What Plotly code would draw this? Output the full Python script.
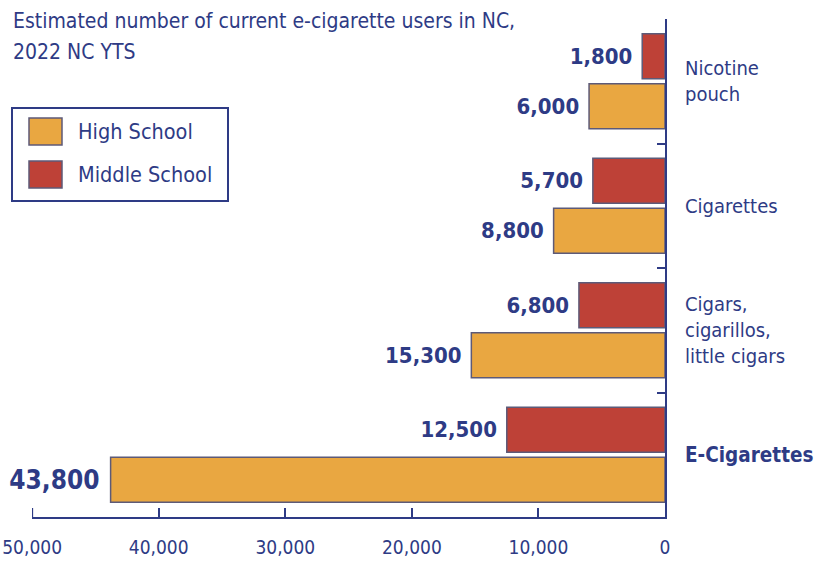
import plotly.graph_objects as go

categories = ["Nicotine<br>pouch", "Cigarettes", "Cigars,<br>cigarillos,<br>little cigars", "E-Cigarettes"]
cat_keys = ["Nicotine pouch", "Cigarettes", "Cigars, cigarillos, little cigars", "E-Cigarettes"]
high_school = [6000, 8800, 15300, 43800]
middle_school = [1800, 5700, 6800, 12500]
series_names = ["High School", "Middle School"]
x_ticks = [0, 10000, 20000, 30000, 40000, 50000]
title_lines = ["Estimated number of current e-cigarette users in NC,", "2022 NC YTS"]

NAVY = "#2e3b85"
ORANGE = "#E9A741"
RED = "#BE4137"
OUTLINE = "#5d5a78"
FONT = "DejaVu Sans Condensed, Liberation Sans Narrow, Roboto Condensed, sans-serif"

# plot area in pixels
L, R, T, B = 32, 665, 19, 517
W, H = 817, 567


def px(x):
    return (x - L) / (R - L)


def py(y):
    return (B - y) / (B - T)


fig = go.Figure()
ms_sizes = [22] * len(middle_school)
hs_sizes = [22, 22, 22, 26]
fig.add_trace(go.Bar(
    y=cat_keys, x=middle_school, orientation="h", name=series_names[1],
    marker=dict(color=RED, line=dict(color=OUTLINE, width=1.5)),
    texttemplate="%{x:,}\u00a0", textposition="outside",
    textfont=dict(family=FONT, size=ms_sizes, color=NAVY, weight="bold"),
    cliponaxis=False, constraintext="none", showlegend=False,
))
fig.add_trace(go.Bar(
    y=cat_keys, x=high_school, orientation="h", name=series_names[0],
    marker=dict(color=ORANGE, line=dict(color=OUTLINE, width=1.5)),
    texttemplate="%{x:,}\u00a0", textposition="outside",
    textfont=dict(family=FONT, size=hs_sizes, color=NAVY, weight="bold"),
    cliponaxis=False, constraintext="none", showlegend=False,
))

ticktext = categories[:-1] + ["<b><span style='font-size:20.5px'>" + categories[-1] + "</span></b>"]

fig.update_layout(
    width=W, height=H,
    margin=dict(l=L, r=W - R, t=T, b=H - B),
    paper_bgcolor="white", plot_bgcolor="white",
    barmode="group", bargap=0.197, bargroupgap=0.1,
    font=dict(family=FONT, color=NAVY, size=20),
    xaxis=dict(range=[50010, 0], tickvals=x_ticks, tickformat=",",
               ticks="inside", ticklen=9, tickwidth=2, tickcolor=NAVY,
               showline=True, linecolor=NAVY, linewidth=2, automargin=False,
               showgrid=False, zeroline=False, ticklabelstandoff=12,
               tickfont=dict(family=FONT, size=19, color=NAVY)),
    yaxis=dict(type="category", categoryorder="array", categoryarray=cat_keys,
               tickvals=cat_keys, ticktext=ticktext,
               autorange="reversed", side="right", automargin=False,
               ticks="inside", tickson="boundaries", ticklen=8, tickwidth=2,
               tickcolor=NAVY, showline=True, linecolor=NAVY, linewidth=2,
               showgrid=False, zeroline=False, ticklabelstandoff=14,
               tickfont=dict(family=FONT, size=20, color=NAVY)),
)

# end tick at the far-left axis value (plotly may drop the edge tick)
fig.add_shape(type="line", xref="x", yref="paper", x0=x_ticks[-1], x1=x_ticks[-1],
              y0=0, y1=9 / (B - T), line=dict(color=NAVY, width=2))

# title, two lines
for i, line in enumerate(title_lines):
    fig.add_annotation(xref="paper", yref="paper", x=px(11), y=py(21 + 31 * i), text=line,
                       showarrow=False, xanchor="left", yanchor="middle", align="left",
                       font=dict(family=FONT, size=21, color=NAVY))

# custom legend
shapes = [
    dict(type="rect", xref="paper", yref="paper", x0=px(12), x1=px(228), y0=py(108), y1=py(201),
         line=dict(color=NAVY, width=2), fillcolor="rgba(0,0,0,0)"),
    dict(type="rect", xref="paper", yref="paper", x0=px(29), x1=px(62), y0=py(118), y1=py(145),
         line=dict(color=OUTLINE, width=1.5), fillcolor=ORANGE),
    dict(type="rect", xref="paper", yref="paper", x0=px(29), x1=px(62), y0=py(161), y1=py(188),
         line=dict(color=OUTLINE, width=1.5), fillcolor=RED),
]
for s in shapes:
    fig.add_shape(**s)
fig.add_annotation(xref="paper", yref="paper", x=px(76), y=py(131), text=series_names[0],
                   showarrow=False, xanchor="left", yanchor="middle",
                   font=dict(family=FONT, size=21.5, color=NAVY))
fig.add_annotation(xref="paper", yref="paper", x=px(76), y=py(174), text=series_names[1],
                   showarrow=False, xanchor="left", yanchor="middle",
                   font=dict(family=FONT, size=21.5, color=NAVY))

fig.write_html("out.html")
